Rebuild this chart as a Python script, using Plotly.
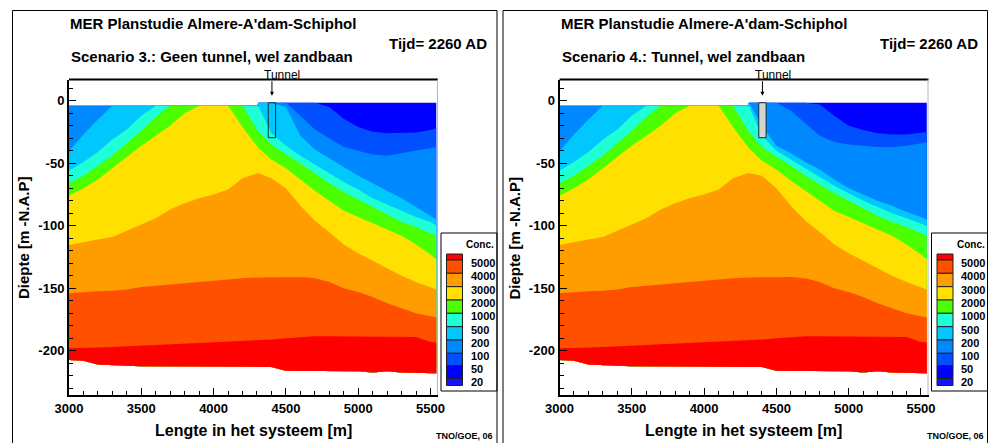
import plotly.graph_objects as go

# ---------------- data ----------------
X_M = [3000, 3100, 3200, 3300, 3400, 3500, 3600, 3700, 3800, 3900, 4000, 4100, 4200,
       4300, 4310, 4400, 4500, 4600, 4700, 4800, 4900, 5000, 5100, 5200, 5300, 5400, 5500, 5540]
TOP = [-4, -4, -4, -4, -4, -4, -4, -4, -4, -4, -4, -4, -4,
       -4, -1.6, -1.6, -1.6, -1.6, -1.6, -1.6, -1.6, -1.6, -1.6, -1.6, -1.6, -1.6, -1.6, -1.6]

# Scenario 3 : depth (m) of each concentration contour
s3_c50 = [-4, -4, -4, -4, -4, -4, -4, -4, -4, -4, -4, -4, -4,
          -4, -1.6, -1.6, -1.6, -1.6, -1.6, -5, -14.5, -21, -24.8, -26, -26, -25.5, -23.5, -22]
s3_c100 = [-4, -4, -4, -4, -4, -4, -4, -4, -4, -4, -4, -4, -4,
           -4, -1.6, -1.6, -1.6, -12, -23, -30, -37, -40, -43, -44, -42, -40, -38, -37]
s3_c200 = [-40.5, -27, -15, -4, -4, -4, -4, -4, -4, -4, -4, -4, -4,
           -4, -1.6, -1.6, -5, -28, -39, -46, -53, -60, -66, -72, -78, -85, -92, -95]
s3_c500 = [-56, -49, -41, -31, -23, -12, -4, -4, -4, -4, -4, -4, -4,
           -4, -4.5, -26, -36, -44, -51, -58, -65, -71, -78, -83, -88, -93, -97, -100]
s3_c1000 = [-66, -60, -52, -44, -34, -24, -13, -4, -4, -4, -4, -4, -4,
            -23, -25, -35, -43, -50, -58, -66, -73, -79, -85, -91, -97, -101, -106, -108]
s3_c2000 = [-76, -70, -63, -54, -45, -36, -28, -20, -10, -4, -4, -4, -21,
            -37, -38, -47, -54, -63, -72, -80, -88, -93, -98, -103, -108, -115, -123, -127]
s3_c3000 = [-115.5, -113, -111, -109, -104, -99, -94, -87, -82, -78, -75, -71, -62,
            -58, -58, -62, -70, -84, -96, -105, -115, -122, -128, -134, -140, -145, -149.5, -151]
s3_c4000 = [-154, -153, -152.5, -152, -151, -149, -148, -147, -146, -145, -143.5, -143, -142,
            -141.5, -141.5, -141, -141, -141, -142, -145, -150, -153, -157, -162, -166, -170, -172.5, -173.5]
s3_c5000 = [-198, -198, -197.5, -197, -196.5, -196, -195.5, -195, -194.5, -194, -193.5, -193, -192,
            -191.5, -191.5, -191, -190, -189, -188.5, -188.5, -188.5, -188.5, -188.5, -188.5, -188.5, -189, -193, -193.5]
s3_bottom = [-207.5, -208, -211, -211.5, -212, -212.5, -213, -213, -213, -213, -213, -213, -213,
             -213, -213, -213, -216, -216, -216, -216, -216.5, -216.5, -217.5, -216.5, -217.5, -218, -218, -218]

# Scenario 4
s4_c50 = [-4, -4, -4, -4, -4, -4, -4, -4, -4, -4, -4, -4, -4,
          -4, -1.6, -1.6, -1.6, -1.6, -1.6, -3, -12, -20, -23.5, -26, -27, -27, -26, -25]
s4_c100 = [-4, -4, -4, -4, -4, -4, -4, -4, -4, -4, -4, -4, -4,
           -4, -1.6, -1.6, -1.6, -8, -18, -28, -33, -35, -36, -37, -37, -36, -34, -33]
s4_c200 = [-40.5, -27, -15, -4, -4, -4, -4, -4, -4, -4, -4, -4, -4,
           -4, -1.6, -20, -36, -42, -49, -55, -63, -70, -75, -80, -84, -89, -93, -95]
s4_c500 = [-56, -49, -41, -31, -23, -12, -4, -4, -4, -4, -4, -4, -4,
           -4, -4.5, -28, -40, -47, -54, -61, -68, -74, -80, -85, -90, -94, -98, -100]
s4_c1000 = [-66, -60, -52, -44, -34, -24, -13, -4, -4, -4, -4, -4, -4,
            -23, -25, -37, -45, -52, -60, -67, -74, -80, -86, -92, -97, -101, -106, -108]
s4_c2000 = [-76, -70, -63, -54, -45, -36, -28, -20, -10, -4, -4, -4, -21,
            -37, -38, -48, -55, -64, -72, -80, -88, -93, -98, -103, -108, -115, -123, -127]
s4_c3000 = [-115.5, -113, -111, -109, -104, -99, -94, -87, -82, -78, -75, -71, -62,
            -58, -58, -60, -70, -84, -96, -105, -115, -122, -128, -134, -140, -145, -149.5, -151]
s4_c4000 = [-154, -153, -152.5, -152, -151, -149, -148, -147, -146, -145, -143.5, -143, -142,
            -141.5, -141.5, -141, -141, -141, -142, -145, -150, -153, -157, -162, -166, -170, -172.5, -173.5]
s4_c5000 = [-198, -198, -197.5, -197, -196.5, -196, -195.5, -195, -194.5, -194, -193.5, -193, -192,
            -191.5, -191.5, -191, -190, -189, -188.5, -188.5, -188.5, -188.5, -188.5, -188.5, -188.5, -189, -193, -193.5]
s4_bottom = [-207.5, -208, -211, -211.5, -212, -212.5, -213, -213, -213, -213, -213, -213, -213,
             -213, -213, -213, -216, -216, -216, -216, -216.5, -216.5, -217.5, -216.5, -217.5, -218, -218, -218]

TUNNEL_X = [4378, 4429]
TUNNEL_DEPTH = [-1.6, -29.6]

# band colours from the surface (lowest conc.) down to the highest conc.
BAND_COLORS = ['#0000ff', '#0050ff', '#0088ff', '#00c8ff', '#1effd5',
               '#4cff00', '#ffe000', '#ff9c00', '#ff5000', '#ff0000']
LEGEND_COLORS = ['#ff0000', '#ff5000', '#ff9c00', '#ffe000', '#4cff00', '#1effd5',
                 '#00c8ff', '#0088ff', '#0050ff', '#0000ff', '#1414ff']
LEGEND_LABELS = ['5000', '4000', '3000', '2000', '1000', '500', '200', '100', '50', '20']

X_TICKS = [3000, 3500, 4000, 4500, 5000, 5500]
Y_TICKS = [0, -50, -100, -150, -200]
Y_TICK_TEXT = ['0', '-50', '-100', '-150', '-200']

TITLE = "MER Planstudie Almere-A'dam-Schiphol"
TIME = "Tijd= 2260 AD"
SCENARIOS = ["Scenario 3.: Geen tunnel, wel zandbaan", "Scenario 4.: Tunnel, wel zandbaan"]

# ---------------- layout helpers ----------------
W, H = 992, 443
FONT = "Liberation Sans, Arial, sans-serif"


def px(p):
    return p / W


def py(p):
    return 1 - p / H


PANEL_SHIFT = 490.5
fig = go.Figure()


def add_bands(bounds, xa, ya):
    clipped = []
    prev = TOP
    for b in bounds:
        cur = [min(v, p) for v, p in zip(b, prev)]
        clipped.append(cur)
        prev = cur
    uppers = [TOP] + clipped[:-1]
    bottom = clipped[-1]
    for color, up in zip(BAND_COLORS, uppers):
        fig.add_trace(go.Scatter(
            x=list(X_M) + list(X_M[::-1]),
            y=list(up) + list(bottom[::-1]),
            fill='toself', fillcolor=color, mode='lines',
            line=dict(width=0, color=color), hoverinfo='skip',
            showlegend=False, xaxis=xa, yaxis=ya))


add_bands([s3_c50, s3_c100, s3_c200, s3_c500, s3_c1000, s3_c2000, s3_c3000,
           s3_c4000, s3_c5000, s3_bottom], 'x', 'y')
add_bands([s4_c50, s4_c100, s4_c200, s4_c500, s4_c1000, s4_c2000, s4_c3000,
           s4_c4000, s4_c5000, s4_bottom], 'x2', 'y2')

shapes = []
annotations = []

for i in range(2):
    sh = PANEL_SHIFT * i
    xa = 'x' if i == 0 else 'x2'
    ya = 'y' if i == 0 else 'y2'
    # tunnel
    shapes.append(dict(type='rect', xref=xa, yref=ya,
                       x0=TUNNEL_X[0], x1=TUNNEL_X[1], y0=TUNNEL_DEPTH[0], y1=TUNNEL_DEPTH[1],
                       line=dict(color='#103030', width=1),
                       fillcolor='rgba(0,0,0,0)' if i == 0 else '#d4d4d4'))
    # panel frame
    shapes.append(dict(type='rect', xref='paper', yref='paper',
                       x0=px(12.5 + sh), x1=px(497 + sh), y0=py(445), y1=py(10.5),
                       line=dict(color='black', width=1)))
    # top and right plot border
    shapes.append(dict(type='line', xref='paper', yref='paper',
                       x0=px(69 + sh), x1=px(438 + sh), y0=py(79.5), y1=py(79.5),
                       line=dict(color='black', width=2)))
    shapes.append(dict(type='line', xref='paper', yref='paper',
                       x0=px(437.5 + sh), x1=px(437.5 + sh), y0=py(79.5), y1=py(395),
                       line=dict(color='#b8b8b8', width=1)))
    # legend frame
    shapes.append(dict(type='rect', xref='paper', yref='paper',
                       x0=px(441 + sh), x1=px(497 + sh), y0=py(391), y1=py(233),
                       line=dict(color='black', width=1)))
    # legend boxes
    edges = [254, 260, 273.3, 286.7, 300, 313.3, 326.7, 340, 353.3, 365.5, 378.5, 385.5]
    for k, c in enumerate(LEGEND_COLORS):
        shapes.append(dict(type='rect', xref='paper', yref='paper',
                           x0=px(446.5 + sh), x1=px(462.5 + sh),
                           y0=py(edges[k + 1]), y1=py(edges[k]),
                           fillcolor=c, line=dict(color='#202020', width=1)))
    for k, lab in enumerate(LEGEND_LABELS):
        annotations.append(dict(text=lab, xref='paper', yref='paper',
                                x=px(468.5 + sh), y=py(edges[k + 1] + 3),
                                xanchor='left', yanchor='middle', showarrow=False,
                                font=dict(family=FONT, size=11, color='black', weight='bold')))
    annotations.append(dict(text='Conc.', xref='paper', yref='paper',
                            x=px(480 + sh), y=py(244), xanchor='center', yanchor='middle',
                            showarrow=False,
                            font=dict(family=FONT, size=10, color='black', weight='bold')))
    # titles
    annotations.append(dict(text=TITLE, xref='paper', yref='paper', x=px(68 + sh), y=py(23),
                            xanchor='left', yanchor='middle', showarrow=False,
                            font=dict(family=FONT, size=15, color='black', weight='bold')))
    annotations.append(dict(text=TIME, xref='paper', yref='paper', x=px(489 + sh), y=py(43),
                            xanchor='right', yanchor='middle', showarrow=False,
                            font=dict(family=FONT, size=15, color='black', weight='bold')))
    annotations.append(dict(text=SCENARIOS[i], xref='paper', yref='paper', x=px(69 + sh), y=py(57),
                            xanchor='left', yanchor='middle', showarrow=False,
                            font=dict(family=FONT, size=15, color='black', weight='bold')))
    annotations.append(dict(text='Lengte in het systeem [m]', xref='paper', yref='paper',
                            x=px(253 + sh), y=py(430), xanchor='center', yanchor='middle',
                            showarrow=False,
                            font=dict(family=FONT, size=16, color='black', weight='bold')))
    annotations.append(dict(text='Diepte [m -N.A.P]', xref='paper', yref='paper',
                            x=px(23 + sh), y=py(238), xanchor='center', yanchor='middle',
                            textangle=-90, showarrow=False,
                            font=dict(family=FONT, size=15, color='black', weight='bold')))
    annotations.append(dict(text='TNO/GOE, 06', xref='paper', yref='paper',
                            x=px(495 + sh), y=py(436), xanchor='right', yanchor='middle',
                            showarrow=False,
                            font=dict(family=FONT, size=9, color='black', weight='bold')))
    # tunnel label + arrow
    annotations.append(dict(text='Tunnel', xref='paper', yref='paper',
                            x=px(282 + sh), y=py(74.5), xanchor='center', yanchor='middle',
                            showarrow=False, font=dict(family=FONT, size=12, color='black')))
    annotations.append(dict(text='', xref=xa, yref=ya, x=sum(TUNNEL_X) / 2, y=4,
                            ax=0, ay=-16, showarrow=True, arrowhead=2, arrowsize=0.8,
                            arrowwidth=1, arrowcolor='black'))

axis_common = dict(showgrid=False, zeroline=False, showline=True, linecolor='black',
                   linewidth=2, ticks='inside', ticklen=7, tickwidth=1, tickcolor='black',
                   automargin=False,
                   tickfont=dict(family=FONT, size=13, color='black', weight='bold'))

for i in range(2):
    sh = PANEL_SHIFT * i
    xkey = 'xaxis' if i == 0 else 'xaxis2'
    ykey = 'yaxis' if i == 0 else 'yaxis2'
    fig.update_layout(**{
        xkey: dict(axis_common, domain=[px(69 + sh), px(438 + sh)], range=[3000, 5552],
                   tickvals=X_TICKS, ticktext=[str(v) for v in X_TICKS],
                   minor=dict(dtick=100, tick0=3000, ticks='inside', ticklen=4, tickcolor='black'),
                   anchor='y' if i == 0 else 'y2'),
        ykey: dict(axis_common, domain=[py(395), py(79.5)], range=[-235.5, 17],
                   tickvals=Y_TICKS, ticktext=Y_TICK_TEXT,
                   minor=dict(dtick=10, tick0=0, ticks='inside', ticklen=4, tickcolor='black'),
                   anchor='x' if i == 0 else 'x2'),
    })

fig.update_layout(width=W, height=H, margin=dict(l=0, r=0, t=0, b=0),
                  paper_bgcolor='white', plot_bgcolor='white',
                  shapes=shapes, annotations=annotations, showlegend=False)

fig.write_html("out.html")
